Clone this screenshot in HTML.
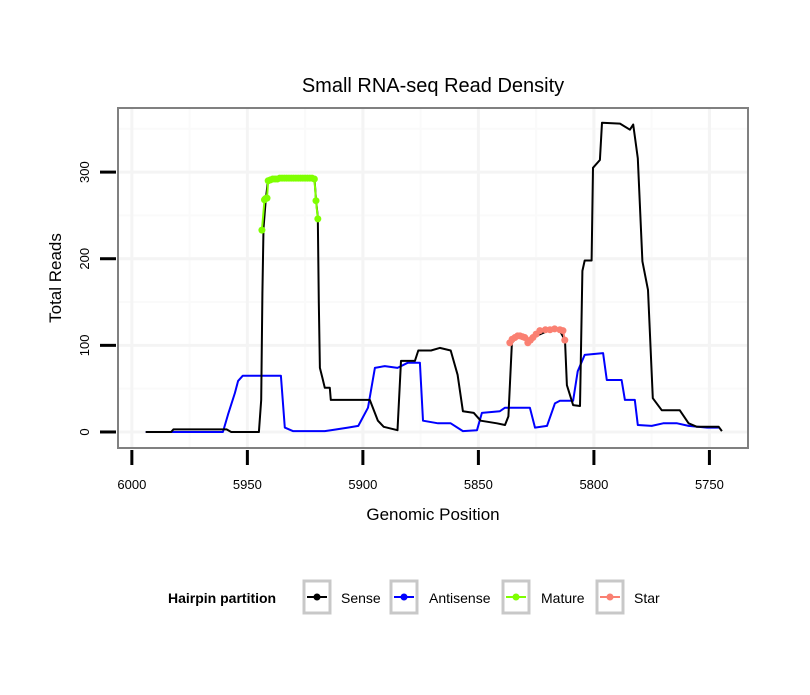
<!DOCTYPE html>
<html><head><meta charset="utf-8"><style>
body{margin:0;background:#fff;font-family:"Liberation Sans",sans-serif}
svg text{font-family:"Liberation Sans",sans-serif}
</style></head><body>
<svg id="chart" width="810" height="690" viewBox="0 0 810 690">
<rect width="810" height="690" fill="#fff"/>
<text x="433" y="92" font-size="20" text-anchor="middle" fill="#000">Small RNA-seq Read Density</text>
<rect x="118" y="108" width="630" height="340" fill="#fff"/>
<g id="grid"></g>
<g id="series"></g>
<rect x="118" y="108" width="630" height="340" fill="none" stroke="#808080" stroke-width="2"/>
<g id="axes"></g>
<text x="433" y="520" font-size="17" text-anchor="middle">Genomic Position</text>
<text transform="translate(61,278) rotate(-90)" font-size="17" text-anchor="middle">Total Reads</text>
<g>
<text x="168" y="603" font-size="14" font-weight="bold">Hairpin partition</text>
<g><rect x="304" y="581" width="26" height="32" fill="#fff" stroke="#c8c8c8" stroke-width="3"/><line x1="307" y1="597" x2="327" y2="597" stroke="#000" stroke-width="2"/><circle cx="317" cy="597" r="3.5" fill="#000"/><text x="341" y="603" font-size="14">Sense</text></g>
<g><rect x="391" y="581" width="26" height="32" fill="#fff" stroke="#c8c8c8" stroke-width="3"/><line x1="394" y1="597" x2="414" y2="597" stroke="#00f" stroke-width="2"/><circle cx="404" cy="597" r="3.5" fill="#00f"/><text x="429" y="603" font-size="14">Antisense</text></g>
<g><rect x="503" y="581" width="26" height="32" fill="#fff" stroke="#c8c8c8" stroke-width="3"/><line x1="506" y1="597" x2="526" y2="597" stroke="#7fff00" stroke-width="2"/><circle cx="516" cy="597" r="3.5" fill="#7fff00"/><text x="541" y="603" font-size="14">Mature</text></g>
<g><rect x="597" y="581" width="26" height="32" fill="#fff" stroke="#c8c8c8" stroke-width="3"/><line x1="600" y1="597" x2="620" y2="597" stroke="#fa8072" stroke-width="2"/><circle cx="610" cy="597" r="3.5" fill="#fa8072"/><text x="634" y="603" font-size="14">Star</text></g>
</g>
</svg>
<script>
const xTicks=[6000,5950,5900,5850,5800,5750];
const yTicks=[0,100,200,300];
const sensePos=[5994,5983,5982,5959,5957,5945,5944,5943.5,5943,5942,5941,5930,5921,5920.3,5919.5,5919.1,5918.6,5917.5,5916.5,5914.3,5913.9,5897,5893.5,5891,5885,5883.5,5877.5,5876,5870.5,5866.7,5862,5859,5856.7,5852,5849,5842,5838.5,5837,5835.5,5833,5830,5828,5824,5819,5815,5812.5,5811.7,5809,5806,5805,5804,5801,5800.4,5797.4,5796.5,5788.7,5784.4,5783,5781,5779,5776.6,5774.5,5770.6,5762.8,5759,5755.4,5746,5744.6];
const senseVal=[0,0,3,3,0,0,37,160,235,270,292,294,294,268,248,150,74,62,51,51,37,37,13,6,2,82,82,94,94,97,94,66,24,22,13,10,8,18,103,110,109,105,112,118,118,106,54,31,30,186,198,198,305,314,357,356,349,355,316,197,164,39,25,25,10,6,6,1];
const antiPos=[5994,5983,5960.6,5958.4,5955.4,5954,5952,5935.5,5933.8,5930.3,5916.5,5913.9,5906.5,5902,5897.8,5894.8,5890.5,5885,5880.5,5875.3,5874,5867.5,5862,5856.7,5850.6,5848.5,5840.7,5838.5,5827.7,5825.5,5820.3,5816.9,5814.7,5809,5807,5804,5796,5794.4,5788,5786.6,5782.3,5781,5775,5770,5764,5759,5751,5746];
const antiVal=[0,0,0,20,45,59,65,65,5,1,1,2,5,7,28,74,76,74,80,80,13,10,10,1,2,22,24,28,28,5,7,33,36,36,70,89,91,60,60,37,37,8,7,10,10,7,5,5];
const maturePos=[5943.7,5942.6,5942.3,5941.8,5941.5,5941,5940,5939,5938,5937,5936,5935,5934,5933,5932,5931,5930,5929,5928,5927,5926,5925,5924,5923,5922,5921,5920.3,5919.5];
const matureVal=[233,268,269,270,270,290,291,292,292,292,293,293,293,293,293,293,293,293,293,293,293,293,293,293,293,292,267,246];
const starPos=[5836.4,5835.4,5834.2,5833,5832,5830.9,5829.9,5828.6,5827.5,5826.4,5825,5823.4,5821,5819,5817,5814.7,5813.4,5812.6];
const starVal=[103,107,109,111,111,110,109,103,106,109,113,117,118,118,119,118,117,106];

const X0=6006,X1=5733.3,PX0=118,PX1=748;
const Y0=-18.5,Y1=374,PY0=448,PY1=108;
function sx(v){return PX0+(v-X0)/(X1-X0)*(PX1-PX0);}
function sy(v){return PY0+(v-Y0)/(Y1-Y0)*(PY1-PY0);}
const NS='http://www.w3.org/2000/svg';
function mk(tag,attrs,parent){const e=document.createElementNS(NS,tag);for(const k in attrs)e.setAttribute(k,attrs[k]);parent.appendChild(e);return e;}
const grid=document.getElementById('grid'),axes=document.getElementById('axes'),series=document.getElementById('series');
for(let i=0;i<xTicks.length-1;i++){const m=(xTicks[i]+xTicks[i+1])/2;const l=mk('line',{x1:sx(m),x2:sx(m),y1:108,y2:448,stroke:'#fafafa','stroke-width':2},grid);

}
for(let i=0;i<yTicks.length;i++){const m=yTicks[i]+50;const l=mk('line',{x1:118,x2:748,y1:sy(m),y2:sy(m),stroke:'#fafafa','stroke-width':2},grid);

}
xTicks.forEach(t=>{const x=sx(t);
const g=mk('line',{x1:x,x2:x,y1:108,y2:448,stroke:'#f4f4f4','stroke-width':3},grid);


const tk=mk('line',{x1:x,x2:x,y1:450,y2:465,stroke:'#000','stroke-width':3},axes);


const tx=mk('text',{x:x,y:489,'font-size':13,'text-anchor':'middle'},axes);tx.textContent=t;

});
yTicks.forEach(t=>{const y=sy(t);
const g=mk('line',{x1:118,x2:748,y1:y,y2:y,stroke:'#f4f4f4','stroke-width':3},grid);


const tk=mk('line',{x1:100,x2:116,y1:y,y2:y,stroke:'#000','stroke-width':3},axes);


const tx=mk('text',{transform:`translate(89,${y}) rotate(-90)`,'font-size':13,'text-anchor':'middle'},axes);tx.textContent=t;

});
function line(pos,val,color,name){const d=pos.map((p,i)=>(i?'L':'M')+sx(p).toFixed(1)+','+sy(val[i]).toFixed(1)).join('');
const p=mk('path',{d:d,fill:'none',stroke:color,'stroke-width':2,'stroke-linejoin':'round'},series);

}
function pts(pos,val,color,name){pos.forEach((p,i)=>{const c=mk('circle',{cx:sx(p),cy:sy(val[i]),r:3.5,fill:color},series);

});}
line(antiPos,antiVal,'#0000ff','antisense-line');
line(sensePos,senseVal,'#000000','sense-line');
line(maturePos,matureVal,'#7fff00','mature-line');
pts(maturePos,matureVal,'#7fff00','mature-point');
line(starPos,starVal,'#fa8072','star-line');
pts(starPos,starVal,'#fa8072','star-point');
</script>
</body></html>
